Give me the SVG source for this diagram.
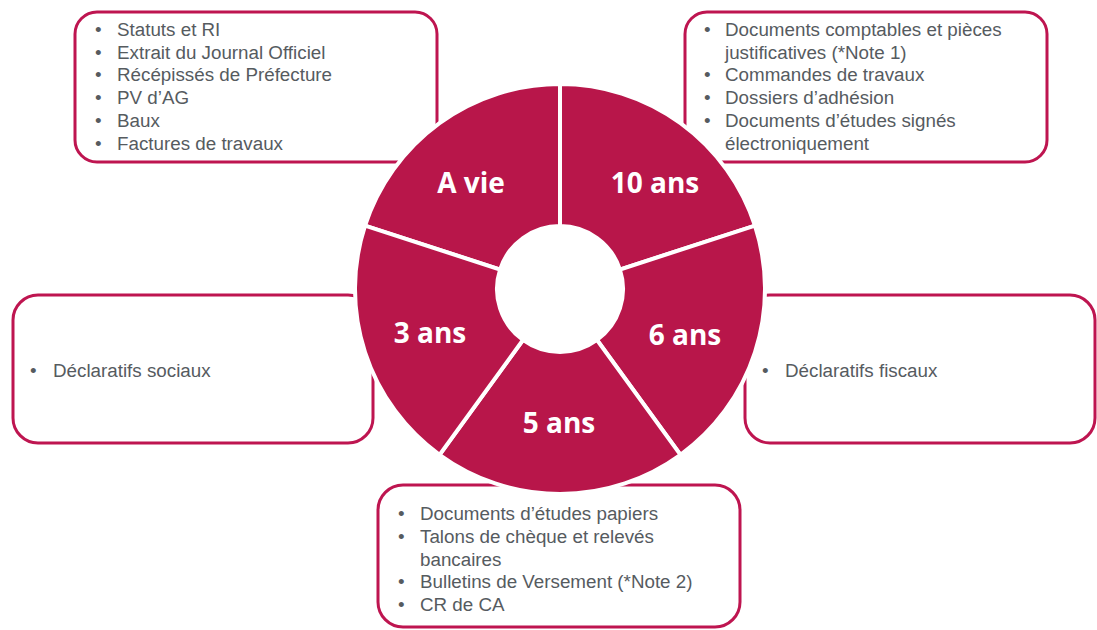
<svg xmlns="http://www.w3.org/2000/svg" width="1097" height="630" viewBox="0 0 1097 630">
<style>
.box{fill:#ffffff;stroke:#BE1550;stroke-width:3}
.t{font-family:"Liberation Sans",Arial,sans-serif;font-size:18.8px;fill:#565b5f}
.seg{fill:#B8164A;stroke:#ffffff;stroke-width:4;stroke-linejoin:miter}
.lbl{font-family:"Open Sans","DejaVu Sans",sans-serif;font-weight:bold;font-size:28px;fill:#ffffff;text-anchor:middle}
</style>
<rect width="1097" height="630" fill="#ffffff"/>
<g id="connectors"/>
<g id="box-avie">
<rect class="box" x="75" y="12" width="362" height="150" rx="22"/>
<text class="t"><tspan x="95" y="36">•</tspan><tspan x="117" y="36">Statuts et RI</tspan><tspan x="95" y="58.7">•</tspan><tspan x="117" y="58.7">Extrait du Journal Officiel</tspan><tspan x="95" y="81.4">•</tspan><tspan x="117" y="81.4">Récépissés de Préfecture</tspan><tspan x="95" y="104.1">•</tspan><tspan x="117" y="104.1">PV d’AG</tspan><tspan x="95" y="126.8">•</tspan><tspan x="117" y="126.8">Baux</tspan><tspan x="95" y="149.5">•</tspan><tspan x="117" y="149.5">Factures de travaux</tspan></text>
</g>
<g id="box-10ans">
<rect class="box" x="685" y="12" width="362" height="150" rx="22"/>
<text class="t"><tspan x="704" y="36">•</tspan><tspan x="725" y="36">Documents comptables et pièces</tspan><tspan x="725" y="58.7">justificatives (*Note 1)</tspan><tspan x="704" y="81.4">•</tspan><tspan x="725" y="81.4">Commandes de travaux</tspan><tspan x="704" y="104.1">•</tspan><tspan x="725" y="104.1">Dossiers d’adhésion</tspan><tspan x="704" y="126.8">•</tspan><tspan x="725" y="126.8">Documents d’études signés</tspan><tspan x="725" y="149.5">électroniquement</tspan></text>
</g>
<g id="box-3ans">
<rect class="box" x="13" y="295" width="360" height="148" rx="25"/>
<text class="t"><tspan x="30" y="377">•</tspan><tspan x="53" y="377">Déclaratifs sociaux</tspan></text>
</g>
<g id="box-6ans">
<rect class="box" x="745" y="295" width="350" height="148" rx="25"/>
<text class="t"><tspan x="762" y="377">•</tspan><tspan x="785" y="377">Déclaratifs fiscaux</tspan></text>
</g>
<g id="box-5ans">
<rect class="box" x="378" y="485" width="362" height="142" rx="25"/>
<text class="t"><tspan x="398" y="520">•</tspan><tspan x="420" y="520">Documents d’études papiers</tspan><tspan x="398" y="543">•</tspan><tspan x="420" y="543">Talons de chèque et relevés</tspan><tspan x="420" y="565.5">bancaires</tspan><tspan x="398" y="588">•</tspan><tspan x="420" y="588">Bulletins de Versement (*Note 2)</tspan><tspan x="398" y="611">•</tspan><tspan x="420" y="611">CR de CA</tspan></text>
</g>
<g id="seg-avie">
<path class="seg" d="M365.03 225.65 A205 205 0 0 1 560 84 L560 226 A63 63 0 0 0 500.08 269.53 Z"/>
<text class="lbl" x="471" y="193">A vie</text>
</g>
<g id="seg-10ans">
<path class="seg" d="M560 84 A205 205 0 0 1 754.97 225.65 L619.92 269.53 A63 63 0 0 0 560 226 Z"/>
<text class="lbl" x="655" y="193">10 ans</text>
</g>
<g id="seg-6ans">
<path class="seg" d="M754.97 225.65 A205 205 0 0 1 680.5 454.85 L597.03 339.97 A63 63 0 0 0 619.92 269.53 Z"/>
<text class="lbl" x="685" y="345">6 ans</text>
</g>
<g id="seg-5ans">
<path class="seg" d="M680.5 454.85 A205 205 0 0 1 439.5 454.85 L522.97 339.97 A63 63 0 0 0 597.03 339.97 Z"/>
<text class="lbl" x="559" y="433">5 ans</text>
</g>
<g id="seg-3ans">
<path class="seg" d="M439.5 454.85 A205 205 0 0 1 365.03 225.65 L500.08 269.53 A63 63 0 0 0 522.97 339.97 Z"/>
<text class="lbl" x="430" y="343">3 ans</text>
</g>
</svg>
